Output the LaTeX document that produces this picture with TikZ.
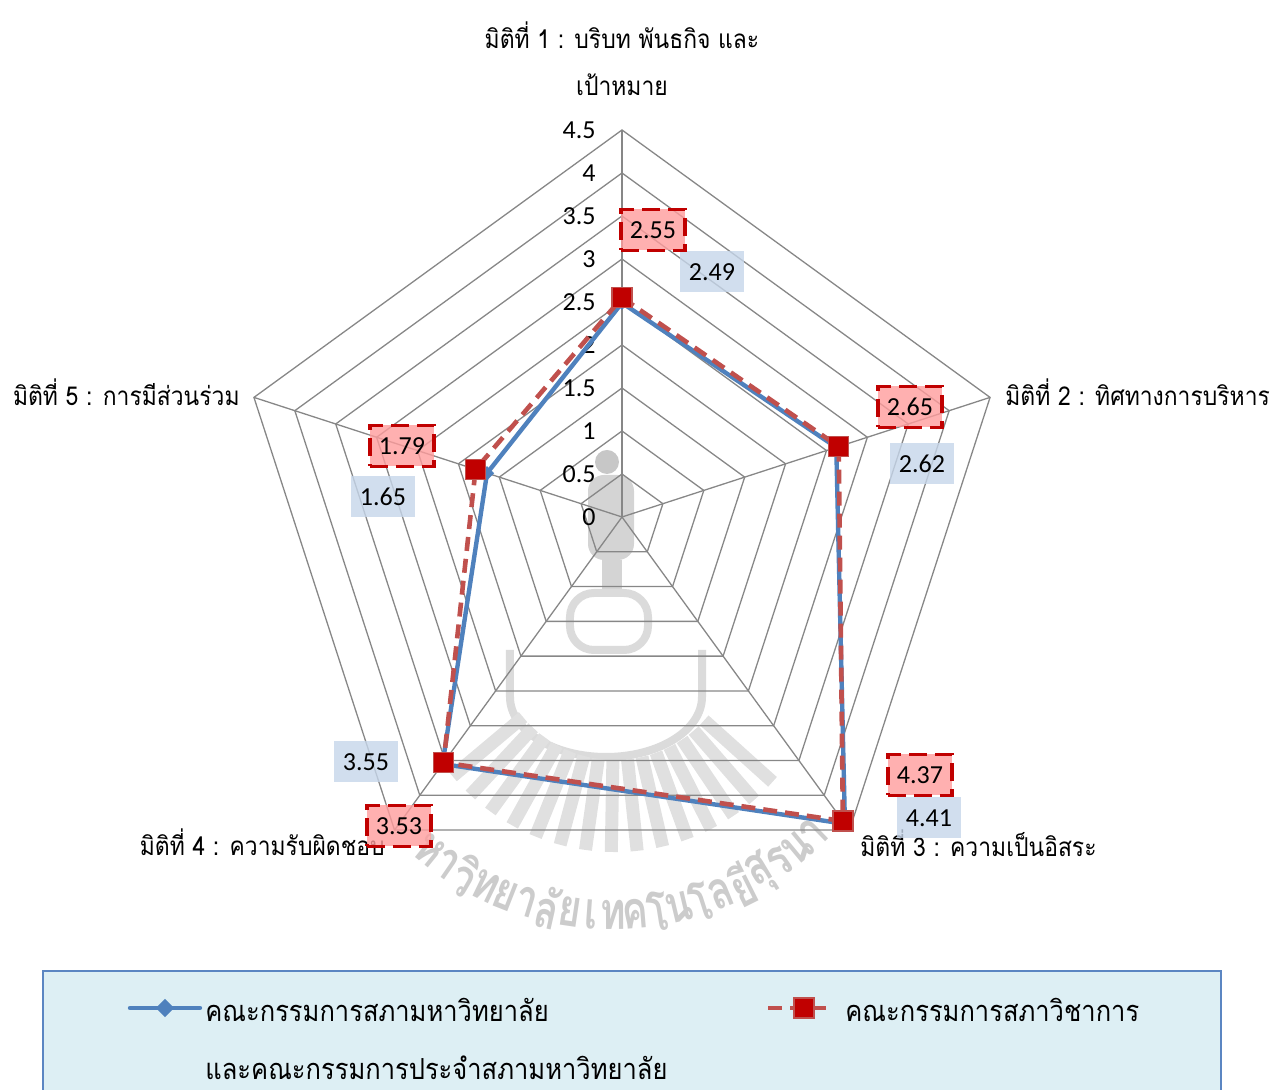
\documentclass[tikz,border=0pt]{standalone}
\usepackage{fontspec}
\setmainfont{Carlito}
\newfontfamily\thaifont[Script=Thai,FakeStretch=0.88]{Loma}
\newfontfamily\wmfont[Script=Thai,FakeStretch=0.75]{Loma}
\usetikzlibrary{positioning,calc}
\definecolor{gridgray}{HTML}{878787}
\definecolor{serblue}{HTML}{4F81BD}
\definecolor{serred}{HTML}{C0504D}
\definecolor{markred}{HTML}{C00000}
\definecolor{pinkbox}{HTML}{FF9C9C}
\definecolor{bluebox}{HTML}{C6D6EA}
\definecolor{legfill}{HTML}{DDEFF4}
\definecolor{legedge}{HTML}{5B86C2}
\tikzset{
  gridline/.style={gridgray, line width=0.65pt},
  ticklabel/.style={anchor=east, inner sep=0pt, font=\fontsize{13}{15}\selectfont},
  axislabel/.style={inner sep=0pt, font=\thaifont\fontsize{13}{15}\selectfont},
  legtext/.style={anchor=west, inner sep=0pt, font=\thaifont\fontsize{14.5}{17}\selectfont},
  blueline/.style={serblue, line width=2.2pt, line join=round},
  redline/.style={serred, line width=2.3pt, dash pattern=on 7pt off 4pt, line join=round},
  bluemark/.style={fill=serblue, rotate=45, minimum size=5pt, inner sep=0pt},
  redmark/.style={draw=serred, fill=markred, line width=0.6pt, minimum size=10pt, inner sep=0pt},
  redlabel/.style={draw=markred, line width=1.75pt, dash pattern=on 9pt off 4pt,
    fill=pinkbox, fill opacity=0.8, text opacity=1, minimum width=32pt,
    minimum height=20.5pt, inner sep=0pt, font=\fontsize{13}{15}\selectfont},
  bluelabel/.style={fill=bluebox, fill opacity=0.8, text opacity=1, minimum width=32pt,
    minimum height=20.5pt, inner sep=0pt, font=\fontsize{13}{15}\selectfont},
  wtext/.style={black!20, inner sep=0pt, font=\wmfont\bfseries\fontsize{26}{26}\selectfont}
}
\begin{document}
\begin{tikzpicture}[x=0.5pt,y=0.5pt]
  \useasboundingbox (-622,-573) rectangle (657,517);
  % watermark
  \fill[black!22] (-15,55) circle (12);
  \fill[black!17, rounded corners=8] (-34,42) rectangle (12,-43);
  \fill[black!17] (-20,-43) rectangle (0,-76);
  \draw[black!14, line width=4pt, rounded corners=12] (-52,-76) rectangle (26,-133);
  \draw[black!14, line width=4pt] (-112,-133) -- (-112,-180)
    arc[start angle=180, end angle=360, x radius=96, y radius=60] -- (80,-133);
  \foreach \a in {-140,-133,...,-40}
    \draw[black!12, line width=6.5pt] ($(-7,-123)+(\a:120)$) -- ($(-7,-123)+(\a:212)$);
  \foreach \ch [count=\i from 0] in {ห,า,วิ,ท,ย,า,ลั,ย,เ,ท,ค,โ,น,โ,ล,ยี,สุ,ร,น,า}
    \node[wtext, rotate={-39+4.37*\i}] at ($(-10,-108)+({-129+4.37*\i}:290)$) {\ch};
  % grid
  \foreach \r in {43,86,...,387}
    \draw[gridline] (90:\r) -- (18:\r) -- (-54:\r) -- (-126:\r) -- (162:\r) -- cycle;
  \coordinate (o) at (0,0);
  \foreach \a [count=\i] in {90,18,-54,-126,162}
    \draw[gridline] (o) -- (\a:387) coordinate (d\i);
  \foreach \t [count=\k from 0] in {0,0.5,1,1.5,2,2.5,3,3.5,4,4.5}
    \node[ticklabel] (t\k) at (-26,43*\k) {\t};
  % axis names
  \node[axislabel] (dim1) at (0,482) {มิติที่ 1 : บริบท พันธกิจ และ};
  \node[axislabel] (dim1b) at (0,432) {เป้าหมาย};
  \node[axislabel, anchor=west] (dim2) at (383,125) {มิติที่ 2 :  ทิศทางการบริหาร};
  \node[axislabel, anchor=west] (dim3) at (238,-326) {มิติที่ 3 : ความเป็นอิสระ};
  \node[axislabel, anchor=east] (dim4) at (-237,-325) {มิติที่ 4 : ความรับผิดชอบ};
  \node[axislabel, anchor=east] (dim5) at (-382,125) {มิติที่ 5 : การมีส่วนร่วม};
  % series
  \foreach \v [count=\i] in {2.49,2.62,4.41,3.55,1.65}
    \coordinate (a\i) at ({162-72*\i}:{86*\v});
  \foreach \v [count=\i] in {2.55,2.65,4.37,3.53,1.79}
    \coordinate (b\i) at ({162-72*\i}:{86*\v});
  \draw[blueline] (a1) -- (a2) -- (a3) -- (a4) -- (a5) -- cycle;
  \foreach \i in {1,...,5}
    \node[bluemark] (am\i) at (a\i) {};
  \draw[redline] (b1) -- (b2) -- (b3) -- (b4) -- (b5) -- cycle;
  \foreach \i in {1,...,5}
    \node[redmark] (bm\i) at (b\i) {};
  % value labels
  \node[bluelabel] (va1) at (90,245) {2.49};
  \node[bluelabel] (va2) at (300,53) {2.62};
  \node[bluelabel] (va3) at (307,-301) {4.41};
  \node[bluelabel] (va4) at (-256,-245) {3.55};
  \node[bluelabel] (va5) at (-239,20) {1.65};
  \node[redlabel] (vb1) at (31,287) {2.55};
  \node[redlabel] (vb2) at (288,110) {2.65};
  \node[redlabel] (vb3) at (298,-258) {4.37};
  \node[redlabel] (vb4) at (-223,-309) {3.53};
  \node[redlabel] (vb5) at (-220,71) {1.79};
  % legend
  \draw[legedge, fill=legfill, line width=1pt] (-579,-454) rectangle (599,-600);
  \coordinate (la1) at (-492,-491);
  \coordinate (la2) at (-422,-491);
  \draw[serblue, line width=2.2pt, line cap=round] (la1) -- (la2);
  \node[bluemark, minimum size=6.5pt] (lam) at (-457,-491) {};
  \node[legtext] (lta) at (-417,-493) {คณะกรรมการสภามหาวิทยาลัย};
  \node[legtext] (ltab) at (-417,-551) {และคณะกรรมการประจำสภามหาวิทยาลัย};
  \coordinate (lb1) at (146,-491);
  \coordinate (lb2) at (208,-491);
  \draw[serred, line width=2.3pt, dash pattern=on 7pt off 4pt] (lb1) -- (lb2);
  \node[redmark] (lbm) at (182,-491) {};
  \node[legtext] (ltb) at (223,-493) {คณะกรรมการสภาวิชาการ};
\end{tikzpicture}
\end{document}
